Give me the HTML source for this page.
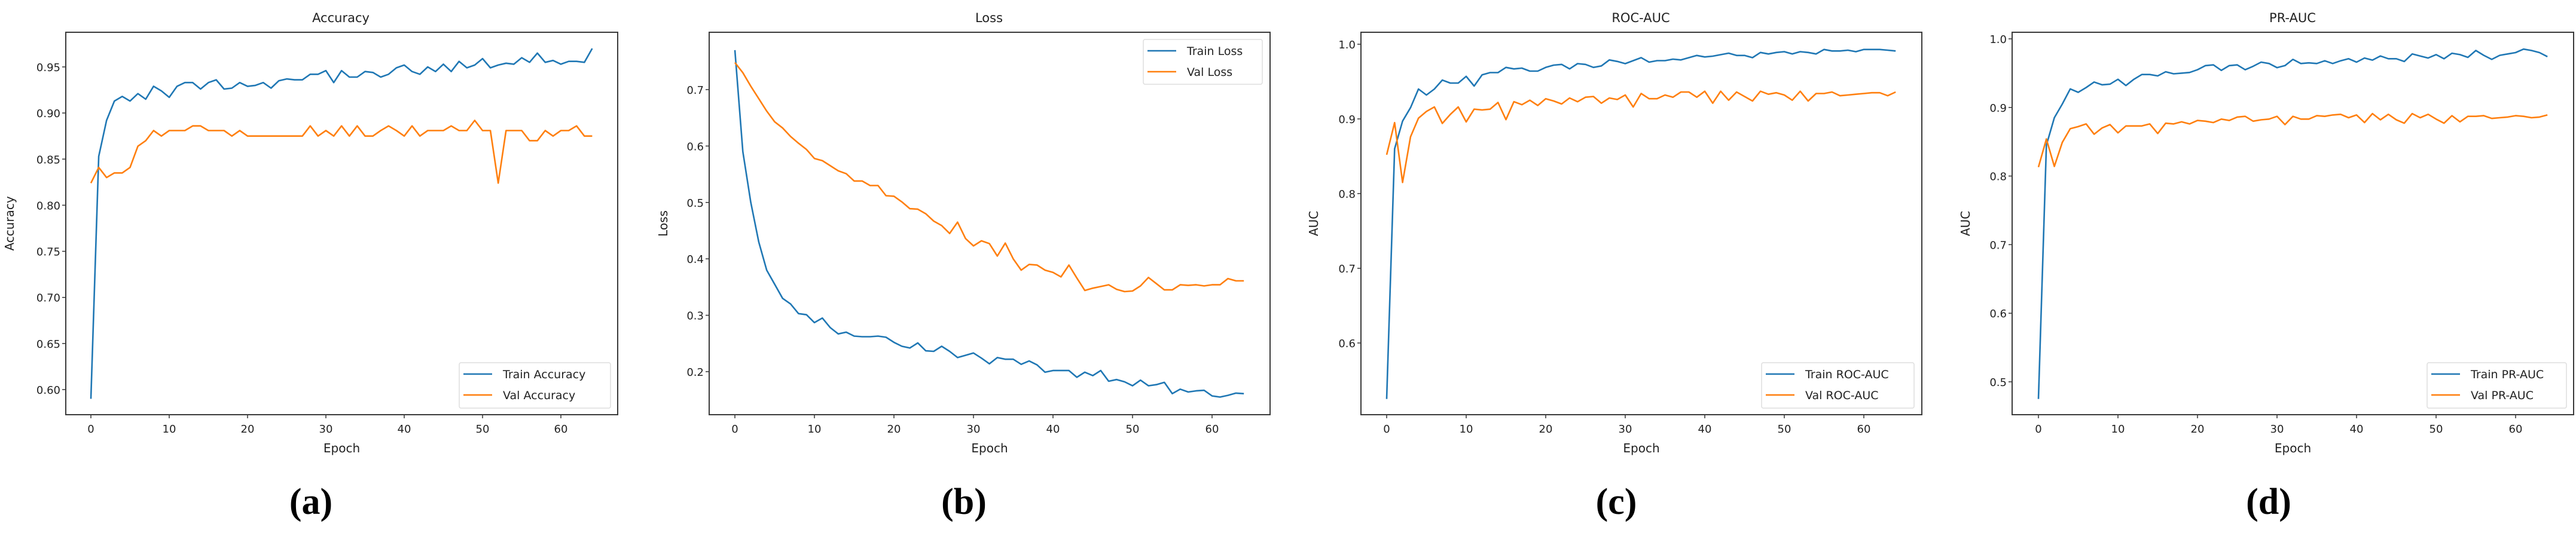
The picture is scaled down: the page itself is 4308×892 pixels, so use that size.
<!DOCTYPE html>
<html><head><meta charset="utf-8"><style>
html,body{margin:0;padding:0;background:#fff;}
svg{display:block;}
text{font-family:"DejaVu Sans","Liberation Sans",sans-serif;fill:#222;}
.lab{font-family:"Liberation Serif",serif;font-weight:bold;fill:#000;}
</style></head><body>
<svg id="fig" width="4308" height="892" viewBox="0 0 4308 892" xmlns="http://www.w3.org/2000/svg"></svg>
<script>
const epochs = Array.from({length:65},(_,i)=>i);
const xTicks = [0,10,20,30,40,50,60];
const accTrain = [0.59,0.853,0.892,0.913,0.918,0.913,0.921,0.915,0.929,0.924,0.917,0.929,0.933,0.933,0.926,0.933,0.936,0.926,0.927,0.933,0.929,0.930,0.933,0.927,0.935,0.937,0.936,0.936,0.942,0.942,0.946,0.933,0.946,0.939,0.939,0.945,0.944,0.939,0.942,0.949,0.952,0.945,0.942,0.950,0.945,0.953,0.945,0.956,0.949,0.952,0.959,0.949,0.952,0.954,0.953,0.960,0.955,0.965,0.955,0.957,0.953,0.956,0.956,0.955,0.970];
const accVal = [0.824,0.841,0.830,0.835,0.835,0.841,0.864,0.870,0.881,0.875,0.881,0.881,0.881,0.886,0.886,0.881,0.881,0.881,0.875,0.881,0.875,0.875,0.875,0.875,0.875,0.875,0.875,0.875,0.886,0.875,0.881,0.875,0.886,0.875,0.886,0.875,0.875,0.881,0.886,0.881,0.875,0.886,0.875,0.881,0.881,0.881,0.886,0.881,0.881,0.892,0.881,0.881,0.824,0.881,0.881,0.881,0.870,0.870,0.881,0.875,0.881,0.881,0.886,0.875,0.875];
const lossTrain = [0.77,0.59,0.50,0.43,0.38,0.355,0.33,0.32,0.303,0.301,0.287,0.295,0.278,0.267,0.27,0.263,0.262,0.262,0.263,0.261,0.252,0.245,0.242,0.251,0.237,0.236,0.245,0.236,0.225,0.229,0.233,0.224,0.214,0.225,0.222,0.222,0.213,0.219,0.212,0.199,0.202,0.202,0.202,0.19,0.199,0.193,0.202,0.183,0.186,0.182,0.175,0.185,0.175,0.177,0.181,0.161,0.169,0.164,0.166,0.167,0.157,0.155,0.158,0.162,0.161];
const lossVal = [0.748,0.73,0.706,0.684,0.662,0.643,0.632,0.617,0.605,0.594,0.578,0.574,0.565,0.556,0.551,0.538,0.538,0.53,0.53,0.512,0.511,0.501,0.489,0.488,0.48,0.467,0.459,0.445,0.465,0.436,0.423,0.432,0.427,0.405,0.428,0.4,0.38,0.39,0.389,0.38,0.376,0.368,0.389,0.366,0.344,0.348,0.351,0.354,0.346,0.342,0.343,0.352,0.367,0.356,0.345,0.345,0.354,0.353,0.354,0.352,0.354,0.354,0.365,0.361,0.361];
const rocTrain = [0.525,0.86,0.897,0.915,0.94,0.932,0.94,0.952,0.948,0.948,0.957,0.944,0.959,0.962,0.962,0.969,0.967,0.968,0.964,0.964,0.969,0.972,0.973,0.967,0.974,0.973,0.969,0.971,0.979,0.977,0.974,0.978,0.982,0.976,0.978,0.978,0.98,0.979,0.982,0.985,0.983,0.984,0.986,0.988,0.985,0.985,0.982,0.989,0.987,0.989,0.99,0.987,0.99,0.989,0.987,0.993,0.991,0.991,0.992,0.99,0.993,0.993,0.993,0.992,0.991];
const rocVal = [0.852,0.895,0.815,0.876,0.901,0.91,0.916,0.894,0.906,0.916,0.896,0.913,0.912,0.913,0.922,0.899,0.923,0.919,0.925,0.918,0.927,0.924,0.92,0.928,0.923,0.929,0.93,0.921,0.928,0.926,0.932,0.916,0.934,0.927,0.927,0.932,0.929,0.936,0.936,0.929,0.937,0.921,0.937,0.925,0.936,0.93,0.924,0.937,0.933,0.935,0.932,0.925,0.937,0.924,0.934,0.934,0.936,0.931,0.932,0.933,0.934,0.935,0.935,0.931,0.936];
const prTrain = [0.475,0.845,0.885,0.905,0.927,0.922,0.929,0.937,0.933,0.934,0.941,0.932,0.941,0.948,0.948,0.946,0.952,0.949,0.95,0.951,0.955,0.961,0.962,0.954,0.961,0.962,0.955,0.96,0.966,0.964,0.958,0.961,0.97,0.964,0.965,0.964,0.968,0.964,0.968,0.971,0.966,0.972,0.969,0.975,0.971,0.971,0.967,0.978,0.975,0.972,0.977,0.971,0.979,0.977,0.973,0.983,0.976,0.97,0.976,0.978,0.98,0.985,0.983,0.98,0.974];
const prVal = [0.813,0.854,0.814,0.849,0.869,0.872,0.876,0.861,0.87,0.875,0.863,0.873,0.873,0.873,0.876,0.862,0.877,0.876,0.879,0.876,0.881,0.88,0.878,0.883,0.881,0.886,0.887,0.88,0.882,0.883,0.887,0.875,0.887,0.883,0.883,0.888,0.887,0.889,0.89,0.885,0.889,0.878,0.891,0.882,0.89,0.882,0.877,0.891,0.885,0.89,0.883,0.877,0.888,0.879,0.887,0.887,0.888,0.884,0.885,0.886,0.888,0.887,0.885,0.886,0.889];
const accTicks = [0.60,0.65,0.70,0.75,0.80,0.85,0.90,0.95];
const lossTicks = [0.2,0.3,0.4,0.5,0.6,0.7];
const rocTicks = [0.6,0.7,0.8,0.9,1.0];
const prTicks = [0.5,0.6,0.7,0.8,0.9,1.0];

const NS="http://www.w3.org/2000/svg";
const svg=document.getElementById('fig');
function mk(tag,attrs,parent){const e=document.createElementNS(NS,tag);for(const k in attrs)e.setAttribute(k,attrs[k]);(parent||svg).appendChild(e);return e;}

const panels=[
 {id:'accuracy',title:'Accuracy',ylabel:'Accuracy',tr:accTrain,va:accVal,ticks:accTicks,dec:2,
  L:110,R:1033,T:54,B:694,x0:152,x60:938,v1:0.95,y1:112,v2:0.60,y2:652,ylx:16,
  leg:{x:768,y:607,w:253,h:76,names:['Train Accuracy','Val Accuracy']},tx:570,lab:'(a)',lx:520},
 {id:'loss',title:'Loss',ylabel:'Loss',tr:lossTrain,va:lossVal,ticks:lossTicks,dec:1,
  L:1186,R:2124,T:54,B:694,x0:1229,x60:2027,v1:0.7,y1:150,v2:0.2,y2:622,ylx:1109,
  leg:{x:1912,y:66,w:199,h:75,names:['Train Loss','Val Loss']},tx:1654,lab:'(b)',lx:1612},
 {id:'roc-auc',title:'ROC-AUC',ylabel:'AUC',tr:rocTrain,va:rocVal,ticks:rocTicks,dec:1,
  L:2276,R:3214,T:54,B:694,x0:2319,x60:3117,v1:1.0,y1:74,v2:0.6,y2:574,ylx:2197,
  leg:{x:2946,y:607,w:255,h:76,names:['Train ROC-AUC','Val ROC-AUC']},tx:2744,lab:'(c)',lx:2703},
 {id:'pr-auc',title:'PR-AUC',ylabel:'AUC',tr:prTrain,va:prVal,ticks:prTicks,dec:1,
  L:3365,R:4304,T:54,B:694,x0:3409,x60:4207,v1:1.0,y1:65,v2:0.5,y2:639,ylx:3287,
  leg:{x:4059,y:607,w:233,h:76,names:['Train PR-AUC','Val PR-AUC']},tx:3834,lab:'(d)',lx:3794}
];

panels.forEach(p=>{
  const g=mk('g',{});
  
  
  const xs=v=>p.x0+(v/60)*(p.x60-p.x0);
  const ys=v=>p.y1+(v-p.v1)/(p.v2-p.v1)*(p.y2-p.y1);
  const t=mk('text',{x:p.tx,y:37,'text-anchor':'middle','font-size':21},g);t.textContent=p.title;
  
  
  xTicks.forEach(v=>{
    const x=xs(v);
    mk('line',{x1:x,x2:x,y1:p.B,y2:p.B+6,stroke:'#333','stroke-width':1.5},g);
    const tt=mk('text',{x:x,y:724,'text-anchor':'middle','font-size':18},g);tt.textContent=v;
    
    
  });
  p.ticks.forEach(v=>{
    const y=ys(v);
    mk('line',{x1:p.L-6,x2:p.L,y1:y,y2:y,stroke:'#333','stroke-width':1.5},g);
    const tt=mk('text',{x:p.L-9,y:y+7,'text-anchor':'end','font-size':18},g);tt.textContent=v.toFixed(p.dec);
    
    
  });
  const xl=mk('text',{x:(p.L+p.R)/2,y:757,'text-anchor':'middle','font-size':20},g);xl.textContent='Epoch';
  
  
  const cy=(p.T+p.B)/2;
  const yl=mk('text',{x:p.ylx,y:cy,'text-anchor':'middle','font-size':20,transform:`rotate(-90 ${p.ylx} ${cy})`,dy:7},g);yl.textContent=p.ylabel;
  
  
  [[p.tr,'#1f77b4','train'],[p.va,'#ff7f0e','val']].forEach(([arr,c,n])=>{
    const pl=mk('polyline',{points:arr.map((v,i)=>xs(epochs[i]).toFixed(1)+','+ys(v).toFixed(1)).join(' '),fill:'none',stroke:c,'stroke-width':2.6,'stroke-linejoin':'round'},g);
    
    
  });
  const fr=mk('rect',{x:p.L,y:p.T,width:p.R-p.L,height:p.B-p.T,fill:'none',stroke:'#3a3a3a','stroke-width':2},g);
  
  
  const L=p.leg;
  const lg=mk('g',{},g);
  
  
  mk('rect',{x:L.x,y:L.y,width:L.w,height:L.h,rx:3,fill:'#fff','fill-opacity':0.85,stroke:'#ddd','stroke-width':1.5},lg);
  [['#1f77b4',L.names[0]],['#ff7f0e',L.names[1]]].forEach(([c,nm],i)=>{
    const yy=L.y+19+i*35;
    mk('line',{x1:L.x+7,x2:L.x+55,y1:yy,y2:yy,stroke:c,'stroke-width':2.6},lg);
    const lt=mk('text',{x:L.x+73,y:yy+7,'font-size':19},lg);lt.textContent=nm;
    
    
  });
  const sl=mk('text',{x:p.lx,y:860,'text-anchor':'middle','font-size':62},g);sl.setAttribute('class','lab');sl.textContent=p.lab;
  
  
});
</script>
</body></html>
